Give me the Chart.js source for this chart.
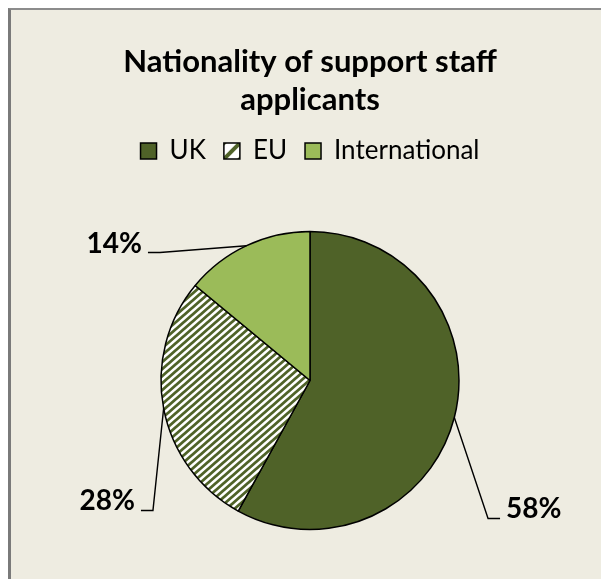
<!DOCTYPE html>
<html>
<head>
<meta charset="utf-8">
<script src="https://cdn.jsdelivr.net/npm/chart.js@4.4.1/dist/chart.umd.min.js"></script>
<style>
  html, body { margin: 0; padding: 0; background: #fff; }
  body { width: 601px; height: 579px; position: relative; overflow: hidden; }
  #bg {
    position: absolute; left: 8px; top: 8px; right: 0; bottom: 0;
    background: #EEECE1;
    border-left: 3px solid #7a7a7a;
    border-top: 2px solid #8c8c8c;
  }
  #chart { position: absolute; left: 0; top: 0; }
</style>
</head>
<body>
<div id="bg"></div>
<!-- canvas runs a few px past the window bottom so the pie sits where the reference has it -->
<canvas id="chart" width="601" height="587"></canvas>
<script>
// Nationality of support staff applicants (% of applicants)
const categories = ['UK', 'EU', 'International'];
const shares = [58, 28, 14];

const DARK_OLIVE = '#4F6228';
const LIGHT_OLIVE = '#9BBB59';

// diagonal "/" hatch: white with olive stripes
function makeHatch(w, h, lw) {
  const c = document.createElement('canvas');
  c.width = w; c.height = h;
  const g = c.getContext('2d');
  g.fillStyle = '#fff';
  g.fillRect(0, 0, w, h);
  g.strokeStyle = DARK_OLIVE;
  g.lineWidth = lw;
  for (let k = -1; k <= 1; k++) {
    g.beginPath();
    g.moveTo(k * w - w, 2 * h);
    g.lineTo(k * w + 2 * w, -h);
    g.stroke();
  }
  return g.createPattern(c, 'repeat');
}

const pieHatch = makeHatch(8, 7, 2.8);
const legendHatch = makeHatch(16, 16, 4);

// leader lines + percentage labels, anchored to each arc
const leaderPlugin = {
  id: 'leaders',
  beforeDraw(chart) {
    const hb = chart.legend && chart.legend.legendHitBoxes && chart.legend.legendHitBoxes[1];
    if (hb && legendHatch.setTransform) {
      legendHatch.setTransform(new DOMMatrix([1, 0, 0, 1, hb.left, hb.top + (hb.height - 16) / 2]));
    }
  },
  afterDatasetsDraw(chart, args, opts) {
    const ctx = chart.ctx;
    const meta = chart.getDatasetMeta(0);
    const total = shares.reduce((a, b) => a + b, 0);
    ctx.save();
    ctx.strokeStyle = '#000';
    ctx.lineWidth = 1.4;
    ctx.fillStyle = '#000';
    ctx.font = 'bold 28px Lato';
    meta.data.forEach((arc, i) => {
      const { x, y, startAngle, endAngle, outerRadius } =
        arc.getProps(['x', 'y', 'startAngle', 'endAngle', 'outerRadius'], true);
      const mid = (startAngle + endAngle) / 2;
      const ex = x + Math.cos(mid) * outerRadius;
      const ey = y + Math.sin(mid) * outerRadius;
      const a = opts.anchors[i];
      const kx = x + a.dx * outerRadius;
      const ky = y + a.dy * outerRadius;
      const dir = a.dx > 0 ? 1 : -1;
      const tx = kx + dir * opts.tail;
      ctx.beginPath();
      ctx.moveTo(ex, ey);
      ctx.lineTo(kx, ky);
      ctx.lineTo(tx, ky);
      ctx.stroke();
      ctx.textAlign = dir > 0 ? 'left' : 'right';
      ctx.textBaseline = 'alphabetic';
      ctx.fillText(Math.round(shares[i] / total * 100) + '%', tx + dir * opts.gap, ky);
    });
    ctx.restore();
  }
};

new Chart(document.getElementById('chart'), {
  type: 'pie',
  data: {
    labels: categories,
    datasets: [{
      data: shares,
      backgroundColor: [DARK_OLIVE, pieHatch, LIGHT_OLIVE],
      borderColor: '#000',
      borderWidth: 1.5,
      radius: 149,
    }],
  },
  options: {
    responsive: false,
    animation: false,
    events: [],
    layout: { padding: { left: 19, right: 0, top: 0, bottom: 0 } },
    plugins: {
      title: {
        display: true,
        text: ['Nationality of support staff', 'applicants'],
        color: '#000',
        font: { family: 'Lato', size: 31, weight: 'bold', lineHeight: 38 / 31 },
        padding: { top: 43, bottom: 1 },
      },
      legend: {
        position: 'top',
        labels: {
          color: '#000',
          font: { family: 'Lato', size: 26 },
          boxWidth: 16,
          boxHeight: 16,
          padding: 18,
          generateLabels(chart) {
            const items = Chart.overrides.pie.plugins.legend.labels.generateLabels(chart);
            return items.map((it, i) => Object.assign(it, {
              fillStyle: i === 1 ? legendHatch : it.fillStyle,
              strokeStyle: '#000',
              lineWidth: 1.5,
            }));
          },
        },
      },
      tooltip: { enabled: false },
      leaders: {
        tail: 12,
        gap: 6,
        anchors: [
          { dx: 1.195, dy: 0.926 },
          { dx: -1.054, dy: 0.872 },
          { dx: -1.007, dy: -0.859 },
        ],
      },
    },
  },
  plugins: [leaderPlugin],
});
</script>
</body>
</html>
